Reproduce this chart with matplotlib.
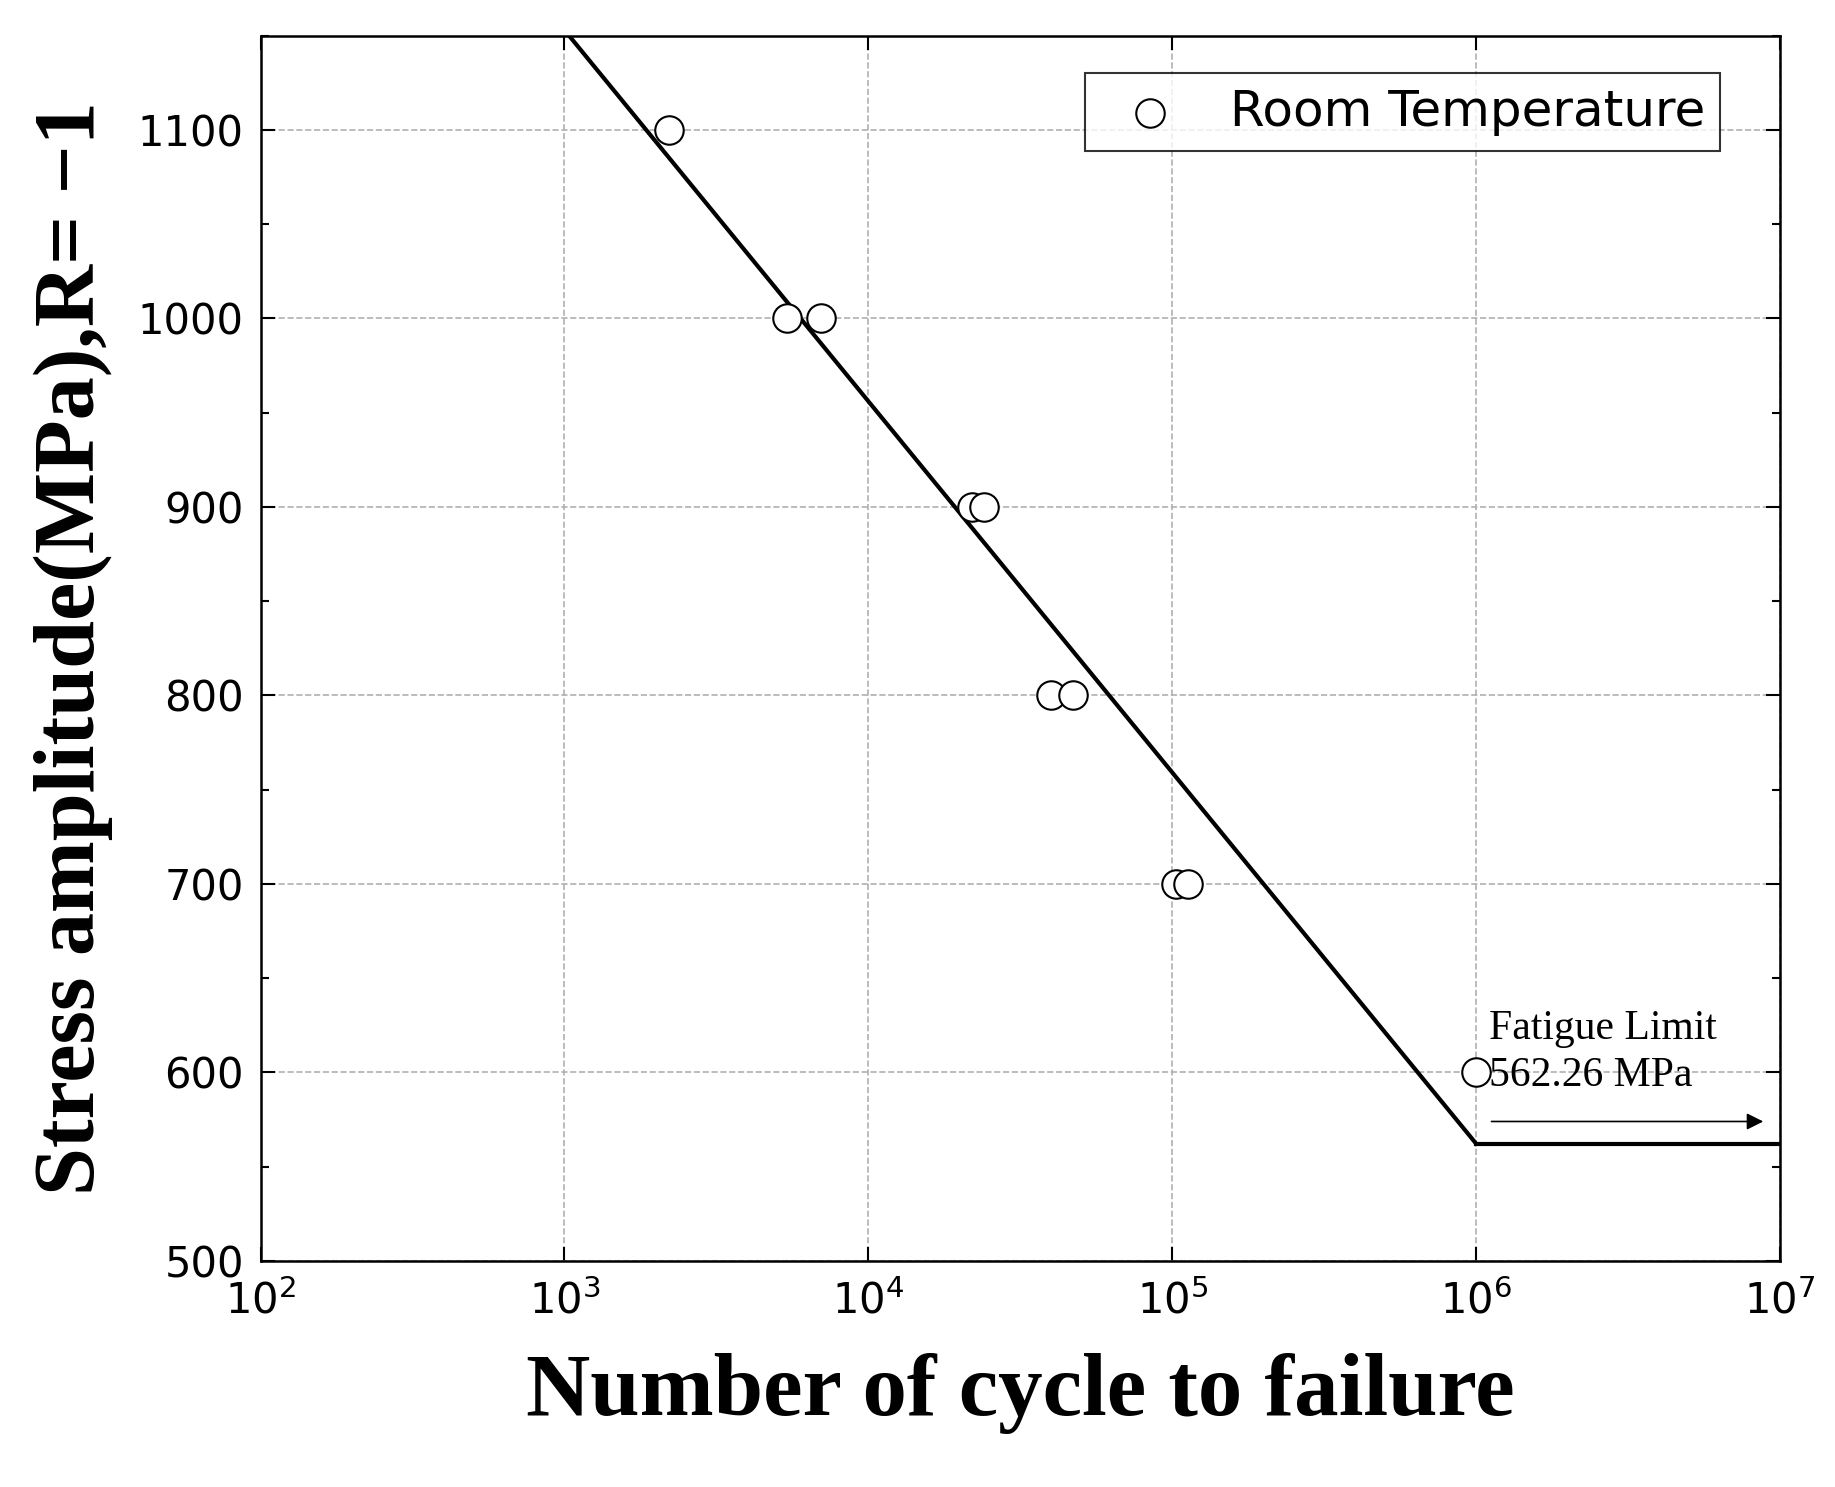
import numpy as np
import matplotlib.pyplot as plt
from matplotlib.ticker import MultipleLocator, LogLocator, NullLocator

# data
cycles = [2200, 5400, 7000, 22000, 24000, 40000, 47000, 103000, 113000, 1000000]
stress = [1100, 1000, 1000, 900, 900, 800, 800, 700, 700, 600]

# fitted S-N line (Basquin, log-linear) and fatigue limit
fit_n = [1000, 1e6]
fit_s = [1153.0, 562.26]
limit_n = [1e6, 1e7]
limit_s = [562.26, 562.26]

fig = plt.figure(figsize=(18.35, 14.87), dpi=100)
ax = fig.add_axes([0.142, 0.152, 0.828, 0.824])

ax.plot(fit_n, fit_s, color='black', lw=3)
ax.plot(limit_n, limit_s, color='black', lw=3)
ax.scatter(cycles, stress, s=420, facecolors='white', edgecolors='black',
           linewidths=1.5, zorder=5, label='Room Temperature')

ax.set_xscale('log')
ax.set_xlim(1e2, 1e7)
ax.set_ylim(500, 1150)
ax.yaxis.set_major_locator(MultipleLocator(100))
ax.yaxis.set_minor_locator(MultipleLocator(50))
ax.xaxis.set_major_locator(LogLocator(base=10))
ax.xaxis.set_minor_locator(NullLocator())
ax.grid(True, which='major', ls='--', color='#b0b0b0', lw=1.2)
ax.tick_params(which='both', direction='in', top=True, right=True, labelsize=30, width=1.5)
ax.tick_params(which='major', length=10)
ax.tick_params(which='minor', length=6)
ax.tick_params(axis='x', pad=14)
ax.tick_params(axis='y', pad=12)
for sp in ax.spines.values():
    sp.set_linewidth(1.8)

ax.set_xlabel('Number of cycle to failure', family='Liberation Serif',
              fontweight='bold', fontsize=64, labelpad=22)
ax.set_ylabel('Stress amplitude(MPa),R= \u22121', family='Liberation Serif',
              fontweight='bold', fontsize=62, labelpad=18)

ax.text(1.1e6, 588, 'Fatigue Limit\n562.26 MPa', family='Liberation Serif',
        fontsize=30, va='bottom', linespacing=1.3)
ax.annotate('', xy=(9e6, 574), xytext=(1.1e6, 574),
            arrowprops=dict(arrowstyle='-|>', color='black', lw=1.2, mutation_scale=25))

leg = ax.legend(loc='upper right', fontsize=36, frameon=True, fancybox=False,
                edgecolor='black', borderpad=0.3, handletextpad=0.6,
                bbox_to_anchor=(0.977, 0.99))
leg.get_frame().set_linewidth(1.5)

fig.savefig('out.png', dpi=100)
